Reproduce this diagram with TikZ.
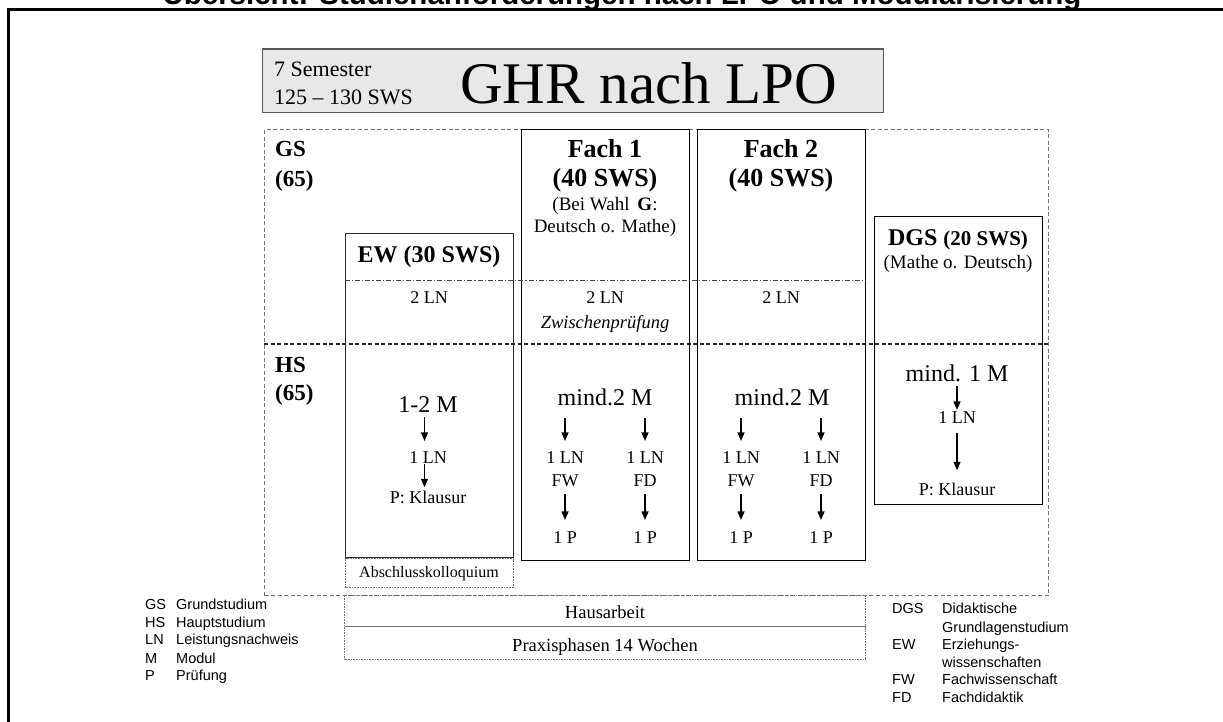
\documentclass[tikz,border=0pt]{standalone}
\usepackage{fontspec}
\setmainfont{Liberation Serif}
\newfontfamily\arialf{Liberation Sans}
\usetikzlibrary{arrows.meta,calc}
\newcommand\fsz[1]{\fontsize{#1}{#1}\selectfont}
\begin{document}
\begin{tikzpicture}[x=1pt,y=-1pt,
  txt/.style={inner sep=0pt, anchor=base},
  txtl/.style={inner sep=0pt, anchor=base west},
  solidbox/.style={draw=black!85, line width=1.3pt, inner sep=0pt, anchor=north west},
  dashreg/.style={draw=black!55, line width=1.2pt, dash pattern=on 4pt off 2.5pt},
  dotbox/.style={draw=black!55, line width=1.1pt, dash pattern=on 0.8pt off 0.8pt, inner sep=0pt, anchor=north west},
  dashdotline/.style={draw=black!75, line width=0.9pt, dash pattern=on 5pt off 2pt on 1.2pt off 2pt},
  arr/.style={draw=black, line width=1.2pt, -{Triangle[length=8.5pt,width=7pt]}},
  small/.style={txt, font=\fsz{18}},
  big/.style={txt, font=\fsz{24}},
  legend/.style={txtl, font=\arialf\fsz{14.5}},
]
\useasboundingbox (0,0) rectangle (1223,722);

% title and frame
\node[txt, font=\arialf\bfseries\fsz{29.5}] (title) at (622,5) {Übersicht: Studienanforderungen nach LPO und Modularisierung};
\draw[line width=3pt] (1240,10) -- (8,10) -- (8,740);

% header
\node[draw=black!65, fill=black!9, line width=1.3pt, inner sep=0pt, anchor=north west,
      minimum width=621pt, minimum height=63pt] (hdr) at (262,49) {};
\draw[line width=2.5pt, black!65] (hdr.north west) -- (hdr.north east);
\node[txtl, font=\fsz{22}] (sem) at (274,77) {7 Semester};
\node[txtl, font=\fsz{22}] (sws) at (274,105) {125 -- 130 SWS};
\node[txtl, font=\fsz{59}] (ghr) at (460,104) {GHR nach LPO};

% dashed region
\node[dashreg, inner sep=0pt, anchor=north west, minimum width=784pt, minimum height=466pt] (region) at (264,129) {};
\draw[dashreg, draw=black!85] (region.west |- 0,344) -- (region.east |- 0,344);

% boxes
\node[solidbox, minimum width=168pt, minimum height=324pt] (ew) at (345,233) {};
\node[dotbox, minimum width=168pt, minimum height=29pt] (absch) at (345,558) {};
\node[solidbox, draw=black, minimum width=168pt, minimum height=431pt] (f1) at (521,129) {};
\node[solidbox, draw=black, minimum width=168pt, minimum height=431pt] (f2) at (697,129) {};
\node[solidbox, draw=black, minimum width=168pt, minimum height=288pt] (dgs) at (874,216) {};
\node[dotbox, minimum width=521pt, minimum height=31pt] (haus) at (344,595) {};
\node[dotbox, minimum width=521pt, minimum height=33pt] (praxis) at (344,626) {};
\draw[dashdotline] (ew.west |- 0,280) -- (f2.east |- 0,280);

% GS / HS labels
\node[txtl, font=\bfseries\fsz{23}] (gs) at (275,157) {GS};
\node[txtl, font=\bfseries\fsz{23}] (gs65) at (275,187) {(65)};
\node[txtl, font=\bfseries\fsz{23}] (hs) at (275,372) {HS};
\node[txtl, font=\bfseries\fsz{23}] (hs65) at (275,400) {(65)};

% EW column
\node[txt, font=\bfseries\fsz{24}] (ewt) at (429,262) {EW (30 SWS)};
\node[small] (ewln) at (429,303) {2 LN};
\node[big] (ewm) at (428,412) {1-2 M};
\node[small] (ewl1) at (428,463) {1 LN};
\node[small] (ewp) at (428,503) {P: Klausur};
\node[txt, font=\fsz{16}] (abscht) at (429,577) {Abschlusskolloquium};
\draw[arr] ($(ewm.south)+(-3.5,5)$) -- ($(ewl1.north)+(-3.5,-10)$);
\draw[arr] ($(ewl1.south)+(-3.5,1)$) -- ($(ewp.north)+(-3.5,-3)$);

% Fach 1
\node[txt, font=\bfseries\fsz{26}] (f1t) at (605,158) {Fach 1};
\node[txt, font=\bfseries\fsz{26}] (f1s) at (605,187) {(40 SWS)};
\node[txt, font=\fsz{19}] (f1w) at (605,211) {(Bei Wahl \,\textbf{G}:};
\node[txt, font=\fsz{19}] (f1d) at (605,233) {Deutsch o. Mathe)};
\node[small] (f1ln) at (605,303) {2 LN};
\node[txt, font=\itshape\fsz{18.5}] (zw) at (605,328) {Zwischenprüfung};
\node[big] (f1m) at (605,405) {mind.2 M};
\node[small] (f1la) at (565,463) {1 LN};
\node[small] (f1fw) at (565,486) {FW};
\node[small] (f1pa) at (565,543) {1 P};
\node[small] (f1lb) at (645,463) {1 LN};
\node[small] (f1fd) at (645,486) {FD};
\node[small] (f1pb) at (645,543) {1 P};
\draw[arr] ($(f1la.north |- f1m.south)+(0,12)$) -- ($(f1la.north)+(0,-10)$);
\draw[arr] ($(f1lb.north |- f1m.south)+(0,12)$) -- ($(f1lb.north)+(0,-10)$);
\draw[arr] ($(f1fw.south)+(0,8)$) -- ($(f1pa.north)+(0,-11)$);
\draw[arr] ($(f1fd.south)+(0,8)$) -- ($(f1pb.north)+(0,-11)$);

% Fach 2
\node[txt, font=\bfseries\fsz{26}] (f2t) at (781,158) {Fach 2};
\node[txt, font=\bfseries\fsz{26}] (f2s) at (781,187) {(40 SWS)};
\node[small] (f2ln) at (781,303) {2 LN};
\node[big] (f2m) at (782,405) {mind.2 M};
\node[small] (f2la) at (741,463) {1 LN};
\node[small] (f2fw) at (741,486) {FW};
\node[small] (f2pa) at (741,543) {1 P};
\node[small] (f2lb) at (821,463) {1 LN};
\node[small] (f2fd) at (821,486) {FD};
\node[small] (f2pb) at (821,543) {1 P};
\draw[arr] ($(f2la.north |- f2m.south)+(0,12)$) -- ($(f2la.north)+(0,-10)$);
\draw[arr] ($(f2lb.north |- f2m.south)+(0,12)$) -- ($(f2lb.north)+(0,-10)$);
\draw[arr] ($(f2fw.south)+(0,8)$) -- ($(f2pa.north)+(0,-11)$);
\draw[arr] ($(f2fd.south)+(0,8)$) -- ($(f2pb.north)+(0,-11)$);

% DGS
\node[txt, font=\bfseries\fsz{24}] (dgst) at (958,245) {DGS {\fsz{21}(20 SWS)}};
\node[txt, font=\fsz{19}] (dgsm) at (958,268) {(Mathe o. Deutsch)};
\node[big] (dgm) at (957,381) {mind. 1 M};
\node[small] (dgl) at (957,423) {1 LN};
\node[small] (dgp) at (957,495) {P: Klausur};
\draw[arr] ($(dgm.south)+(0,4)$) -- ($(dgl.north)+(0,-1)$);
\draw[arr] ($(dgl.south)+(0,10)$) -- ($(dgp.north)+(0,-12)$);

% bottom boxes text
\node[txt, font=\fsz{18.5}] (haust) at (605,618) {Hausarbeit};
\node[txt, font=\fsz{18.5}] (praxist) at (605,651) {Praxisphasen 14 Wochen};

% legend left
\node[legend] (la1) at (145,609) {GS};
\node[legend] (lb1) at (176,609) {Grundstudium};
\node[legend] (la2) at (145,627) {HS};
\node[legend] (lb2) at (176,627) {Hauptstudium};
\node[legend] (la3) at (145,644) {LN};
\node[legend] (lb3) at (176,644) {Leistungsnachweis};
\node[legend] (la4) at (145,663) {M};
\node[legend] (lb4) at (176,663) {Modul};
\node[legend] (la5) at (145,680) {P};
\node[legend] (lb5) at (176,680) {Prüfung};

% legend right
\node[legend] (ra1) at (892,613) {DGS};
\node[legend] (rb1) at (942,613) {Didaktische};
\node[legend] (rb1b) at (942,632) {Grundlagenstudium};
\node[legend] (ra2) at (892,649) {EW};
\node[legend] (rb2) at (942,649) {Erziehungs-};
\node[legend] (rb2b) at (942,667) {wissenschaften};
\node[legend] (ra3) at (892,684) {FW};
\node[legend] (rb3) at (942,684) {Fachwissenschaft};
\node[legend] (ra4) at (892,702) {FD};
\node[legend] (rb4) at (942,702) {Fachdidaktik};
\end{tikzpicture}
\end{document}
